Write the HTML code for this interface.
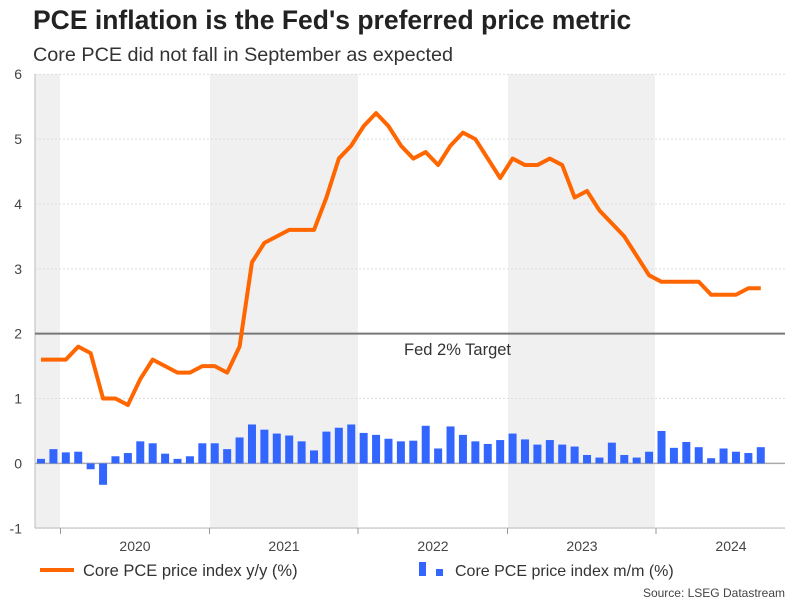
<!DOCTYPE html><html><head><style>
body{margin:0;background:#fff;font-family:"Liberation Sans",Arial,sans-serif;}
</style></head><body>
<svg id="s" width="801" height="601" xmlns="http://www.w3.org/2000/svg" font-family="Liberation Sans, Arial, sans-serif">
<text x="33" y="29" font-size="26.5" font-weight="bold" fill="#222">PCE inflation is the Fed's preferred price metric</text>
<text x="33" y="61" font-size="19.8" fill="#333">Core PCE did not fall in September as expected</text>
</svg>
<script>
const s=document.getElementById('s');
const Y=v=>463.4-v*64.86;
let h='';
[[35,60],[210,358],[508,655]].forEach(b=>h+=`<rect x="${b[0]}" y="74" width="${b[1]-b[0]}" height="454" fill="#f0f0f0"/>`);
for(let v=-1;v<=6;v++){if(v!==2&&v!==0)h+=`<line x1="35" x2="785" y1="${Y(v)}" y2="${Y(v)}" stroke="#ddd" stroke-dasharray="2,2"/>`;
h+=`<text x="22" y="${Y(v)+5}" font-size="14" fill="#444" text-anchor="end">${v}</text>`;}
h+=`<line x1="35" x2="35" y1="74" y2="528" stroke="#bbb"/>`;
h+=`<line x1="35" x2="785" y1="528" y2="528" stroke="#bbb"/>`;
[60.5,209.5,358,507.5,656].forEach(x=>h+=`<line x1="${x}" x2="${x}" y1="528" y2="534" stroke="#999"/>`);
['2020','2021','2022','2023','2024'].forEach((t,i)=>h+=`<text x="${135+i*149}" y="551" font-size="14" fill="#444" text-anchor="middle">${t}</text>`);
h+=`<line x1="35" x2="785" y1="${Y(0)}" y2="${Y(0)}" stroke="#aaa" stroke-width="1.5"/>`;
const m=[0.07,0.22,0.17,0.18,-0.09,-0.33,0.11,0.16,0.34,0.31,0.15,0.07,0.11,0.31,0.31,0.22,0.4,0.6,0.52,0.46,0.43,0.34,0.2,0.49,0.55,0.6,0.47,0.44,0.38,0.34,0.35,0.58,0.23,0.57,0.44,0.34,0.3,0.36,0.46,0.37,0.29,0.36,0.29,0.26,0.13,0.09,0.32,0.13,0.09,0.18,0.5,0.24,0.33,0.25,0.08,0.23,0.18,0.16,0.25];
const l=[1.6,1.6,1.6,1.8,1.7,1.0,1.0,0.9,1.3,1.6,1.5,1.4,1.4,1.5,1.5,1.4,1.8,3.1,3.4,3.5,3.6,3.6,3.6,4.1,4.7,4.9,5.2,5.4,5.2,4.9,4.7,4.8,4.6,4.9,5.1,5.0,4.7,4.4,4.7,4.6,4.6,4.7,4.6,4.1,4.2,3.9,3.7,3.5,3.2,2.9,2.8,2.8,2.8,2.8,2.6,2.6,2.6,2.7,2.7];
const cx=i=>41+i*12.41;
m.forEach((v,i)=>{const y=Math.min(Y(v),Y(0)),hh=Math.abs(Y(v)-Y(0));h+=`<rect x="${cx(i)-4}" y="${y}" width="8" height="${hh}" fill="#3366ff"/>`;});
h+=`<line x1="35" x2="785" y1="${Y(2)}" y2="${Y(2)}" stroke="#777" stroke-width="2"/>`;
h+=`<text x="404" y="355" font-size="16.5" fill="#333">Fed 2% Target</text>`;
h+=`<polyline fill="none" stroke="#ff6600" stroke-width="4" stroke-linejoin="round" points="${l.map((v,i)=>cx(i)+','+Y(v)).join(' ')}"/>`;
h+=`<line x1="40" x2="74" y1="570" y2="570" stroke="#ff6600" stroke-width="4"/>`;
h+=`<text x="83" y="576" font-size="16.5" fill="#333">Core PCE price index y/y (%)</text>`;
h+=`<rect x="419" y="562" width="7" height="14" fill="#3366ff"/><rect x="436" y="569" width="7" height="7" fill="#3366ff"/>`;
h+=`<text x="455" y="576" font-size="16" fill="#333">Core PCE price index m/m (%)</text>`;
h+=`<text x="785" y="597" font-size="12" fill="#444" text-anchor="end">Source: LSEG Datastream</text>`;
s.insertAdjacentHTML('beforeend',h);
</script>
</body></html>
